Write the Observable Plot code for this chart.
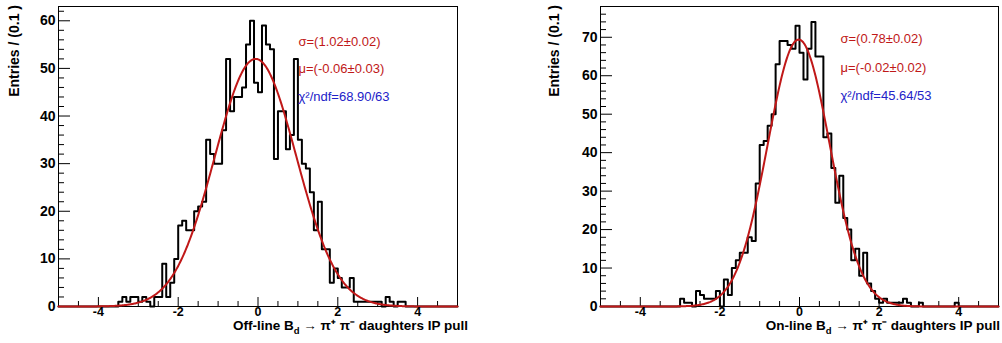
<!DOCTYPE html>
<html>
<head>
<meta charset="utf-8">
<script src="https://cdn.jsdelivr.net/npm/d3@7"></script>
<script src="https://cdn.jsdelivr.net/npm/@observablehq/plot@0.6"></script>
<style>
  body { margin: 0; background: #fff; }
  #wrap { display: flex; width: 1002px; height: 343px; }
  #wrap svg { display: block; }
</style>
</head>
<body>
<div id="wrap"></div>
<script>
// Histogram binning: 100 bins of width 0.1 from -5 to 5
const xLo = -5;
const binWidth = 0.1;

// Off-line pull distribution, entries per bin
const offlineCounts = [
  0, 0, 0, 0, 0, 0, 0, 0, 0, 0,
  0, 0, 0, 0, 0, 1, 2, 1, 2, 2,
  1, 2, 1, 0, 2, 2, 9, 2, 5, 10,
  17, 18, 16, 16, 20, 21, 22, 35, 32, 30,
  30, 37, 52, 41, 44, 44, 46, 55, 60, 47,
  45, 59, 55, 54, 31, 41, 41, 33, 36, 52,
  35, 30, 29, 24, 16, 22, 12, 12, 5, 8,
  6, 4, 4, 6, 1, 1, 1, 1, 1, 1,
  1, 0, 2, 1, 0, 1, 1, 0, 0, 0,
  0, 0, 0, 0, 0, 0, 0, 0, 0, 0
];

// On-line pull distribution, entries per bin
const onlineCounts = [
  0, 0, 0, 0, 0, 0, 0, 0, 0, 0,
  0, 0, 0, 0, 0, 0, 0, 0, 0, 0,
  2, 1, 1, 0, 4, 3, 2, 2, 2, 4,
  0, 7, 3, 10, 12, 14, 14, 18, 17, 32,
  42, 43, 47, 50, 63, 69, 69, 68, 67, 73,
  66, 59, 67, 74, 65, 65, 44, 45, 36, 27,
  34, 23, 20, 12, 15, 8, 14, 6, 4, 2,
  1, 2, 1, 1, 1, 1, 2, 1, 0, 0,
  1, 0, 0, 0, 0, 0, 0, 0, 0, 1,
  0, 0, 0, 0, 0, 0, 0, 0, 0, 0
];

// Gaussian fit results (sigma, mean, peak height in entries)
const offlineFit = { sigma: 1.02, mu: -0.06, peak: 52 };
const onlineFit = { sigma: 0.78, mu: -0.02, peak: 69.4 };

// Fit summary lines
const offlineStats = ["σ=(1.02±0.02)", "μ=(-0.06±0.03)", "χ²/ndf=68.90/63"];
const onlineStats = ["σ=(0.78±0.02)", "μ=(-0.02±0.02)", "χ²/ndf=45.64/53"];

// Axis tick values
const xTickLabels = [-4, -2, 0, 2, 4];

const FONT = "'Liberation Sans', Arial, Helvetica, sans-serif";
const RED = "#c01818";
const BLUE = "#2222c8";

function drawPanel({counts, fit, yMax, width, marginLeft, marginRight, stats, statDy, prefix, yTitleX, xTitleEnd}) {
  const height = 343, marginTop = 6, marginBottom = 37;
  const plotW = width - marginLeft - marginRight;
  const plotH = height - marginTop - marginBottom;

  // Step outline of the histogram, closed down to the baseline at both ends
  const outline = [{x: xLo, y: 0}];
  counts.forEach((c, i) => outline.push({x: xLo + i * binWidth, y: c}));
  outline.push({x: xLo + counts.length * binWidth, y: counts[counts.length - 1]});
  outline.push({x: xLo + counts.length * binWidth, y: 0});

  // Fitted Gaussian sampled across the full range
  const fitCurve = d3.range(0, 501).map(i => {
    const x = xLo + i * 0.02;
    return {x, y: fit.peak * Math.exp(-0.5 * ((x - fit.mu) / fit.sigma) ** 2)};
  });

  const yMajor = d3.range(0, yMax, 10);
  const yMinor = d3.range(0, yMax, 2).filter(v => v % 10 !== 0);
  const xMinor = d3.range(-4.5, 5, 0.5).filter(v => !xTickLabels.includes(v));

  const svg = Plot.plot({
    width, height, marginLeft, marginRight, marginTop, marginBottom,
    style: {fontFamily: FONT, background: "#fff", color: "#000"},
    x: {domain: [-5, 5]},
    y: {domain: [0, yMax]},
    marks: [
      Plot.tickY(yMajor, {y: d => d, insetRight: plotW - 12, stroke: "#000"}),
      Plot.tickY(yMinor, {y: d => d, insetRight: plotW - 6, stroke: "#000"}),
      Plot.tickX(xTickLabels, {x: d => d, insetTop: plotH - 9, stroke: "#000"}),
      Plot.tickX(xMinor, {x: d => d, insetTop: plotH - 5, stroke: "#000"}),
      Plot.line(outline, {x: "x", y: "y", curve: "step-after", stroke: "#000", strokeWidth: 2}),
      Plot.frame({stroke: "#000"}),
      Plot.line(fitCurve, {x: "x", y: "y", stroke: RED, strokeWidth: 2}),
      Plot.axisY(yMajor, {tickSize: 0, tickPadding: 3, tickFormat: d => String(d), fontSize: 14, fontWeight: "bold", label: null}),
      Plot.axisX(xTickLabels, {tickSize: 0, tickPadding: 1, tickFormat: d => String(d), fontSize: 12.5, fontWeight: "bold", label: null}),
      Plot.text([stats[0]], {text: d => d, frameAnchor: "top-left", dx: 240, dy: statDy[0], textAnchor: "start", fill: RED, fontSize: 13}),
      Plot.text([stats[1]], {text: d => d, frameAnchor: "top-left", dx: 240, dy: statDy[1], textAnchor: "start", fill: RED, fontSize: 13}),
      Plot.text([stats[2]], {text: d => d, frameAnchor: "top-left", dx: 240, dy: statDy[2], textAnchor: "start", fill: BLUE, fontSize: 13})
    ]
  });

  const s = d3.select(svg);
  // y-axis title, rotated, aligned to the top of the frame
  s.append("text")
    .attr("transform", `translate(${yTitleX},5) rotate(-90)`)
    .attr("text-anchor", "end")
    .attr("dominant-baseline", "central")
    .attr("font-family", FONT).attr("font-size", 14).attr("font-weight", "bold")
    .text("Entries / (0.1 )");

  // x-axis title with subscript and charge superscripts
  const t = s.append("text")
    .attr("x", xTitleEnd).attr("y", 330)
    .attr("text-anchor", "end")
    .attr("font-family", FONT).attr("font-size", 13.5).attr("font-weight", "bold");
  t.append("tspan").text(prefix + " B");
  t.append("tspan").attr("font-size", 9.5).attr("dy", 4).text("d");
  t.append("tspan").attr("dy", -4).text(" \u2192 \u03c0\u207a \u03c0\u207b daughters IP pull");

  return svg;
}

const wrap = document.getElementById("wrap");
wrap.appendChild(drawPanel({
  counts: offlineCounts, fit: offlineFit, yMax: 63,
  width: 501, marginLeft: 58, marginRight: 44,
  stats: offlineStats, statDy: [30, 57, 85],
  prefix: "Off-line", yTitleX: 14, xTitleEnd: 468
}));
wrap.appendChild(drawPanel({
  counts: onlineCounts, fit: onlineFit, yMax: 78,
  width: 501, marginLeft: 99, marginRight: 4,
  stats: onlineStats, statDy: [27, 56, 84],
  prefix: "On-line", yTitleX: 53, xTitleEnd: 499
}));
</script>
</body>
</html>
